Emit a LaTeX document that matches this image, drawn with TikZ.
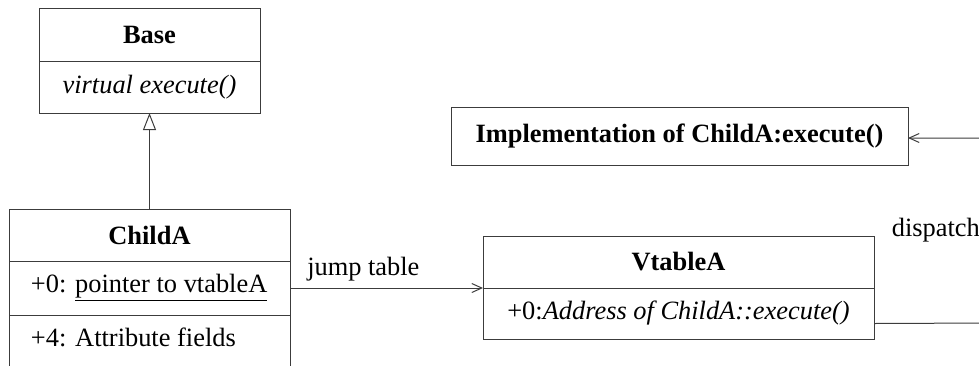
\documentclass[tikz,border=0pt]{standalone}
\usepackage{fontspec}
\setmainfont{Liberation Serif}[BoldFont={Liberation Serif Bold}, ItalicFont={Liberation Serif Italic}, BoldItalicFont={Liberation Serif Bold Italic}]
\usetikzlibrary{arrows.meta,positioning}
\definecolor{umlline}{RGB}{60,60,60}
\newcommand{\umlfont}{\fontsize{13.2}{16}\selectfont}
\newcommand{\fieldbox}[1]{\makebox[118.5pt][l]{#1}}

\tikzset{
  compart/.style={draw=umlline, line width=0.5pt, outer sep=0pt, inner sep=0pt, align=center, font=\umlfont},
  ctitle/.style={compart, font=\umlfont\bfseries},
  cfield/.style={compart, inner xsep=11pt, minimum width=140.5pt},
  inherit/.style={draw=umlline, line width=0.5pt, -{Triangle[open, length=8.5pt, width=6.5pt]}},
  assoc/.style={draw=umlline, line width=0.5pt, -{Straight Barb[length=5pt, width=4.5pt]}},
  plainlbl/.style={font=\umlfont}
}

\begin{document}
\begin{tikzpicture}[x=0.5pt, y=-0.5pt]
            \useasboundingbox (0,0) rectangle (979,365);
            \clip (0,0) rectangle (979,365);

            % Base class
            \node[ctitle, minimum width=110.5pt, minimum height=26.5pt] (basetitle) at (149.5,34.5) {Base};
            \node[compart, minimum width=110.5pt, minimum height=26pt, below=0pt of basetitle] (basemeth) {\itshape virtual execute()};

            % ChildA class
            \node[ctitle, minimum width=140.5pt, minimum height=26pt] (childtitle) at (149.5,235) {ChildA};
            \node[cfield, minimum height=27pt, below=0pt of childtitle] (childptr) {\fieldbox{+0: \underline{pointer to vtableA}}};
            \node[cfield, text height=15.5pt, text depth=11.5pt, below=0pt of childptr] (childattr) {\fieldbox{+4: Attribute fields}};

            % VtableA
            \node[ctitle, minimum width=195.5pt, minimum height=26pt] (vtabtitle) at (678.5,262) {VtableA};
            \node[compart, minimum width=195.5pt, minimum height=25.5pt, below=0pt of vtabtitle] (vtabattr) {+0:\textit{Address of ChildA::execute()}};

            % Implementation
            \node[ctitle, minimum width=228.5pt, minimum height=29pt] (impl) at (679.5,136) {Implementation of ChildA:execute()};

            % Inheritance
            \draw[inherit] (childtitle.north) -- (basemeth.south);

            % Jump table
            \draw[assoc] (childptr.east) -- node[plainlbl, above, pos=0.38]{jump table} (vtabtitle.south west);

            % Dispatch
            \coordinate (turn) at (990,323);
            \draw[assoc] ([yshift=-5pt]vtabattr.east) -- (turn) |- node[plainlbl, left=1.5pt, pos=0.25]{dispatch} ([yshift=-1pt]impl.east);
        \end{tikzpicture}
\end{document}
